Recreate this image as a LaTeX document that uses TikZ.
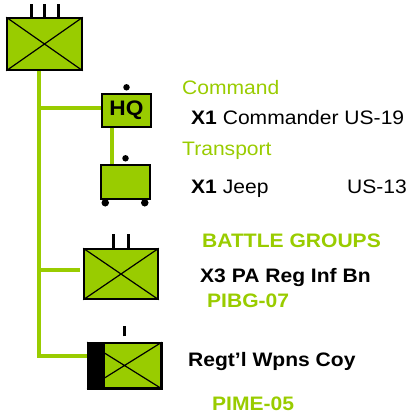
\documentclass[tikz,border=0pt]{standalone}
\usepackage{fontspec}
\setmainfont{Liberation Sans}[FakeStretch=1.08]
\usetikzlibrary{positioning}
\definecolor{vert}{HTML}{99CC00}
\tikzstyle{unite}=[rectangle,draw=black,line width=1.5pt,fill=vert,inner sep=0pt]
\tikzstyle{croix}=[line width=1.2pt]
\tikzstyle{lien}=[draw=vert,line width=4pt]
\tikzstyle{rang}=[line width=3pt]
\tikzstyle{point}=[circle,fill=black,inner sep=0pt,minimum size=6.5pt]
\tikzstyle{titre}=[text=vert,anchor=base west,inner sep=0pt]
\tikzstyle{texte}=[anchor=base west,inner sep=0pt]

\begin{document}
\begin{tikzpicture}[x=1pt,y=-1pt,font=\fontsize{19.5}{23}\selectfont]
\useasboundingbox (0,0) rectangle (411,415);

\node[unite,minimum width=75pt,minimum height=52pt] (B00) at (44.5,44) {};
\node[unite,minimum width=49pt,minimum height=33pt,font=\fontsize{21}{24}\selectfont] (H10) at (126.5,110.5) {\textbf{HQ}};
\node[unite,minimum width=49pt,minimum height=34pt] (T20) at (125.5,182) {};
\node[unite,minimum width=74pt,minimum height=50pt] (G30) at (121,274) {};
\node[unite,minimum width=73pt,minimum height=45pt] (W40) at (124.5,365.5) {};

% croix
\draw[croix] (B00.north west) -- (B00.south east) (B00.south west) -- (B00.north east);
\draw[croix] (G30.north west) -- (G30.south east) (G30.south west) -- (G30.north east);
\draw[croix] (W40.north west) -- (W40.south east) (W40.south west) -- (W40.north east);
\fill (W40.north west) rectangle ([xshift=18pt]W40.south west);
\draw[line width=1.5pt] (W40.north west) rectangle (W40.south east);

% rangs
\foreach \dx in {-13.5,-0.5,13.5}
  \draw[rang] ([xshift=\dx pt]B00.north) -- ++(0,-13);
\foreach \dx in {-8,7}
  \draw[rang] ([xshift=\dx pt]G30.north) -- ++(0,-14);
\draw[rang] ([yshift=6pt]W40.north) -- ++(0,-10);

% points et roues
\node[point] (HQp) [above=2.5pt of H10] {};
\node[point] (T20p) [above=2.5pt of T20] {};
\node[point,minimum size=7.5pt] (T20g) at ([xshift=5pt,yshift=-3pt]T20.south west) {};
\node[point,minimum size=7.5pt] (T20d) at ([xshift=-6pt,yshift=-3pt]T20.south east) {};

% liens
\coordinate (fin) at (39,356);
\draw[lien] (B00.south -| fin) -- (fin) -- (fin -| W40.west);
\draw[lien] ([yshift=2.5pt]H10.west -| fin) -- ([yshift=2.5pt]H10.west);
\draw[lien] ([yshift=4pt]G30.west -| fin) -- ([xshift=-3pt,yshift=4pt]G30.west);
\draw[lien] ([xshift=-14.5pt]H10.south) -- ([xshift=-13.5pt]T20.north);

% textes
\node[titre] (cmd) at (182,94) {Command};
\node[texte] (cdt) at (191,124) {\textbf{X1} Commander US-19};
\node[titre] (trp) at (182,155) {Transport};
\node[texte] (jeep) at (191,193) {\textbf{X1} Jeep};
\node[texte] (us13) at (347,193) {US-13};
\node[titre] (bg) at (202,247) {\textbf{BATTLE GROUPS}};
\node[texte] (inf) at (200,282) {\textbf{X3 PA Reg Inf Bn}};
\node[titre] (pibg) at (207,307) {\textbf{PIBG-07}};
\node[texte] (wpn) at (188,366) {\textbf{Regt’l Wpns Coy}};
\node[titre] (pime) at (212,410) {\textbf{PIME-05}};

\end{tikzpicture}
\end{document}
